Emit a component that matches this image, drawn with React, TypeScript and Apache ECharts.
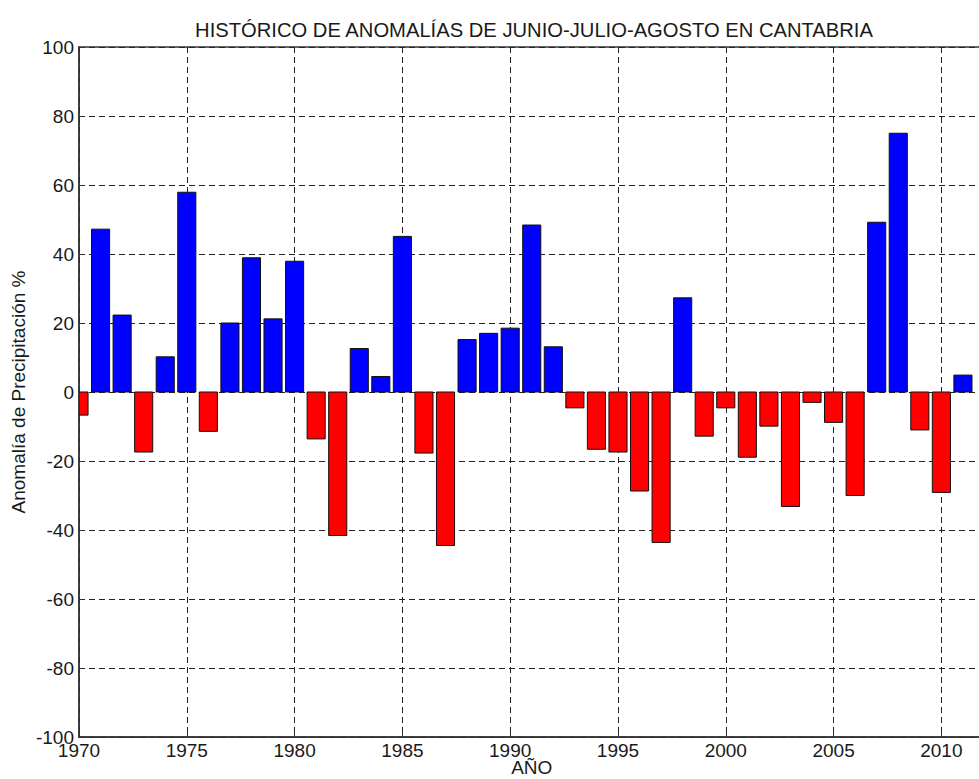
import React, { useEffect, useRef } from "react";
import * as echarts from "echarts";

const years: number[] = [
  1970, 1971, 1972, 1973, 1974, 1975, 1976, 1977, 1978, 1979,
  1980, 1981, 1982, 1983, 1984, 1985, 1986, 1987, 1988, 1989,
  1990, 1991, 1992, 1993, 1994, 1995, 1996, 1997, 1998, 1999,
  2000, 2001, 2002, 2003, 2004, 2005, 2006, 2007, 2008, 2009,
  2010, 2011,
];
const anomalies: number[] = [
  -6.7, 47.2, 22.3, -17.4, 10.2, 57.9, -11.4, 20.0, 38.9, 21.2,
  37.9, -13.6, -41.6, 12.6, 4.5, 45.1, -17.7, -44.5, 15.2, 17.0,
  18.5, 48.4, 13.1, -4.6, -16.6, -17.4, -28.7, -43.6, 27.3, -12.8,
  -4.6, -18.9, -9.9, -33.2, -3.0, -8.8, -30.0, 49.2, 75.0, -11.0,
  -29.1, 4.9,
];
const titleText = "HISTÓRICO DE ANOMALÍAS DE JUNIO-JULIO-AGOSTO EN CANTABRIA";
const xName = "AÑO";
const yName = "Anomalía de Precipitación %";

const FONT = "'Liberation Sans', Arial, Helvetica, sans-serif";
const TXT = "#1a1a1a";

export default function App() {
  const ref = useRef<HTMLDivElement>(null);
  useEffect(() => {
    if (!ref.current) return;
    const chart = echarts.init(ref.current, undefined, { renderer: "svg" });
    const data = years.map((y, i) => [y, anomalies[i]]);
    chart.setOption({
      animation: false,
      backgroundColor: "#ffffff",
      title: {
        text: titleText,
        left: 529,
        textAlign: "center",
        top: 15,
        textStyle: { fontFamily: FONT, fontSize: 20.2, fontWeight: "normal", color: TXT },
      },
      grid: {
        left: 79,
        top: 47,
        width: 905.5,
        height: 690,
        outerBoundsMode: "none",
        containLabel: false,
        show: true,
        borderColor: "#333333",
        borderWidth: 1.5,
        backgroundColor: "transparent",
      },
      xAxis: {
        type: "value",
        min: 1970,
        max: 2012,
        interval: 5,
        name: xName,
        nameLocation: "middle",
        nameMoveOverlap: false,
        nameGap: 21,
        nameTextStyle: { fontFamily: FONT, fontSize: 19, color: TXT, lineHeight: 19 },
        axisLine: { show: true, onZero: false, lineStyle: { color: "#333333", width: 1.5 } },
        axisTick: { show: true, inside: true, length: 5, lineStyle: { color: "#333333" } },
        axisLabel: {
          fontFamily: FONT,
          fontSize: 19,
          color: TXT,
          margin: 4,
          showMaxLabel: false,
          hideOverlap: false,
          formatter: (v: number) => String(v),
        },
        splitLine: { show: true, lineStyle: { color: "#222222", type: [6, 4], width: 1 } },
      },
      yAxis: {
        type: "value",
        min: -100,
        max: 100,
        interval: 20,
        name: yName,
        nameLocation: "middle",
        nameMoveOverlap: false,
        nameGap: 51,
        nameTextStyle: { fontFamily: FONT, fontSize: 19, color: TXT },
        axisLine: { show: true, lineStyle: { color: "#333333", width: 1.5 } },
        axisTick: { show: true, inside: true, length: 5, lineStyle: { color: "#333333" } },
        axisLabel: { fontFamily: FONT, fontSize: 19, color: TXT, margin: 5 },
        splitLine: { show: true, lineStyle: { color: "#222222", type: [6, 4], width: 1 } },
      },
      series: [
        {
          type: "custom",
          data,
          encode: { x: 0, y: 1 },
          clip: true,
          renderItem: (params: any, api: any) => {
            const x = api.value(0);
            const v = api.value(1);
            const p0 = api.coord([x, 0]);
            const p1 = api.coord([x, v]);
            const w = api.size([1, 0])[0] * 0.84;
            const cs = params.coordSys;
            const rect = echarts.graphic.clipRectByRect(
              {
                x: p0[0] - w / 2,
                y: Math.min(p0[1], p1[1]),
                width: w,
                height: Math.abs(p1[1] - p0[1]),
              },
              { x: cs.x, y: cs.y, width: cs.width, height: cs.height }
            );
            if (!rect) return null;
            return {
              type: "rect",
              shape: rect,
              style: {
                fill: v >= 0 ? "#0000ff" : "#ff0000",
                stroke: "#111111",
                lineWidth: 1,
              },
            };
          },
        },
      ],
    });
    return () => chart.dispose();
  }, []);
  return (
    <div
      ref={ref}
      style={{ position: "absolute", left: 0, top: 0, width: 979, height: 779, overflow: "hidden" }}
    />
  );
}
